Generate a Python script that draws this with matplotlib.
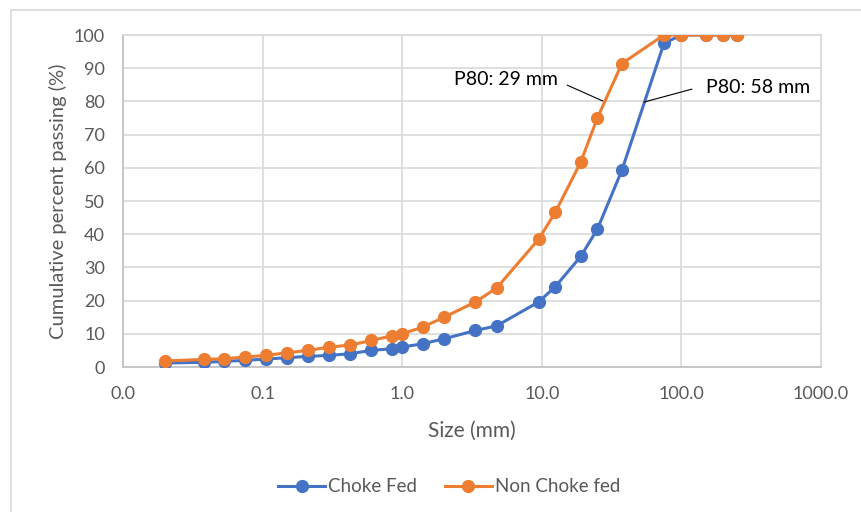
import matplotlib
matplotlib.use("Agg")
import matplotlib.pyplot as plt
from matplotlib.lines import Line2D
from matplotlib.ticker import FixedLocator, FixedFormatter, NullLocator

plt.rcParams["font.family"] = ["Lato", "DejaVu Sans"]

# sieve sizes (mm) and cumulative passing (%)
sizes = [0.02, 0.038, 0.053, 0.075, 0.106, 0.15, 0.212, 0.3, 0.425, 0.6, 0.85, 1.0,
         1.4, 2.0, 3.35, 4.75, 9.5, 12.5, 19, 25, 37.5, 75, 100, 150, 200, 250]
choke_fed = [1.2, 1.4, 1.7, 2.0, 2.4, 2.8, 3.2, 3.5, 4.0, 5.0, 5.5, 6.0,
             7.0, 8.5, 11.0, 12.4, 19.6, 24.2, 33.3, 41.5, 59.3, 97.5, 100, 100, 100, 100]
non_choke_fed = [1.8, 2.3, 2.5, 3.0, 3.5, 4.3, 5.0, 6.0, 6.6, 8.0, 9.4, 10.0,
                 12.0, 15.0, 19.6, 23.8, 38.5, 46.6, 61.7, 75.0, 91.4, 100, 100, 100, 100, 100]

x_ticks = [0.01, 0.1, 1, 10, 100, 1000]
x_labels = ["0.0", "0.1", "1.0", "10.0", "100.0", "1000.0"]

blue = "#4472C4"
orange = "#ED7D31"
grid = "#D9D9D9"
txt = "#595959"

fig = plt.figure(figsize=(8.61, 5.12), dpi=100)
ax = fig.add_axes([123 / 861, 1 - 367 / 512, (821 - 123) / 861, (367 - 35) / 512])

ax.plot(sizes, choke_fed, color=blue, lw=2.2, marker="o", ms=8.5, label="Choke Fed", zorder=3)
ax.plot(sizes, non_choke_fed, color=orange, lw=2.2, marker="o", ms=8.5, label="Non Choke fed", zorder=4)

ax.set_xscale("log")
ax.set_xlim(0.01, 1000)
ax.set_ylim(0, 100)
ax.xaxis.set_major_locator(FixedLocator(x_ticks))
ax.xaxis.set_major_formatter(FixedFormatter(x_labels))
ax.xaxis.set_minor_locator(NullLocator())
ax.set_yticks(range(0, 101, 10))

ax.grid(True, color=grid, lw=1.2)
ax.set_axisbelow(True)
for s in ax.spines.values():
    s.set_color(grid)
    s.set_linewidth(1.2)
ax.spines["bottom"].set_color("#BFBFBF")
ax.spines["left"].set_color("#BFBFBF")
ax.tick_params(length=0, labelsize=13, colors=txt)
ax.tick_params(axis="x", pad=14)
ax.tick_params(axis="y", pad=13)

ax.set_xlabel("Size (mm)", fontsize=15, color=txt, labelpad=13)
ax.set_ylabel("Cumulative percent passing (%)", fontsize=14.5, color=txt, labelpad=5)

# P80 annotations
ax.annotate("", xy=(27.4, 80.1), xytext=(15.2, 84.9),
            arrowprops=dict(arrowstyle="-", color="black", lw=0.8, shrinkA=0, shrinkB=0))
ax.text(13.1, 86.6, "P80: 29 mm", fontsize=14, ha="right", va="center")
ax.annotate("", xy=(54, 79.8), xytext=(119, 83.7),
            arrowprops=dict(arrowstyle="-", color="black", lw=0.8, shrinkA=0, shrinkB=0))
ax.text(150, 84.3, "P80: 58 mm", fontsize=14, ha="left", va="center")

handles = [Line2D([], [], color=blue, lw=2.2, marker="o", ms=8.5),
           Line2D([], [], color=orange, lw=2.2, marker="o", ms=8.5)]
leg = fig.legend(handles, ["Choke Fed", "Non Choke fed"], loc="center",
                 bbox_to_anchor=(449 / 861, 1 - 487 / 512), ncol=2, frameon=False,
                 fontsize=13.5, handlelength=2.5, handletextpad=0.15, columnspacing=1.5)
for t in leg.get_texts():
    t.set_color(txt)

# chart area border (top and left visible)
fig.add_artist(Line2D([11 / 861, 1], [1 - 10 / 512, 1 - 10 / 512], color=grid, lw=1.2,
                      transform=fig.transFigure))
fig.add_artist(Line2D([11 / 861, 11 / 861], [0, 1 - 10 / 512], color=grid, lw=1.2,
                      transform=fig.transFigure))

fig.savefig("out.png", dpi=100)
